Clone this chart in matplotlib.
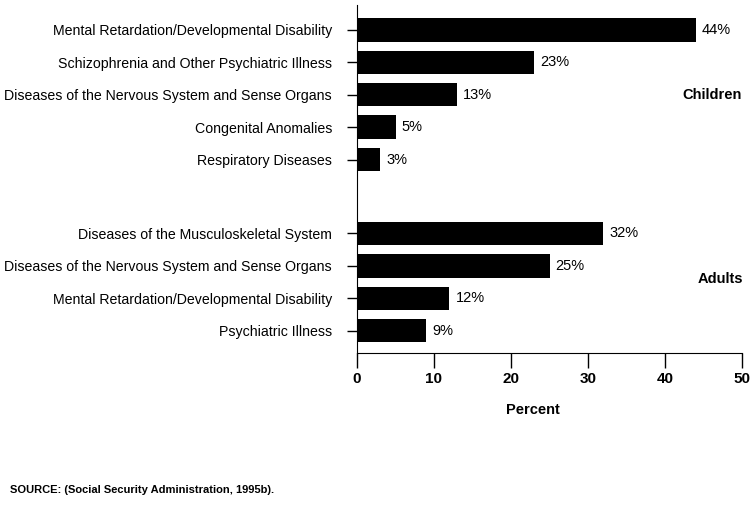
import numpy as np
import matplotlib
matplotlib.use("Agg")
import matplotlib.pyplot as plt

plt.rcParams['font.family'] = ['Liberation Sans', 'DejaVu Sans']

# Dados
criancas = ["Mental Retardation/Developmental Disability",
            "Schizophrenia and Other Psychiatric Illness",
            "Diseases of the Nervous System and Sense Organs",
            "Congenital Anomalies",
            "Respiratory Diseases"]
val_criancas = [44, 23, 13, 5, 3]

adultos = ["Diseases of the Musculoskeletal System",
           "Diseases of the Nervous System and Sense Organs",
           "Mental Retardation/Developmental Disability",
           "Psychiatric Illness"]
val_adultos = [32, 25, 12, 9]

xticks = [0, 10, 20, 30, 40, 50]

# posicoes das barras (grupo de adultos com um espaco)
pos_c = np.arange(len(criancas))
pos_a = np.arange(len(adultos)) + 6.28

fig = plt.figure(figsize=(7.53, 5.11), dpi=100)
ax = fig.add_axes([357/753, 1 - 353/511, 385/753, 348/511])

ax.barh(pos_c, val_criancas, height=0.72, color='black')
ax.barh(pos_a, val_adultos, height=0.72, color='black')

for p, v in zip(list(pos_c) + list(pos_a), val_criancas + val_adultos):
    ax.text(v + 0.8, p, f"{v}%", va='center', ha='left', fontsize=10.5, color='black')

ax.text(42.3, 2.0, "Children", fontsize=10.5, fontweight='bold', va='center', ha='left')
ax.text(44.3, 7.7, "Adults", fontsize=10.5, fontweight='bold', va='center', ha='left')

ax.set_yticks(list(pos_c) + list(pos_a))
ax.set_yticklabels(criancas + adultos, fontsize=10.2)
ax.set_ylim(9.97, -0.77)
ax.set_xlim(0, 50)
ax.set_xticks(xticks)
ax.set_xticklabels([str(x) for x in xticks], fontsize=11, fontweight='bold')

# tamanhos em pontos (1 pt = 1.39 px a 100 dpi)
ax.tick_params(axis='y', length=7.2, width=1, pad=10.8)
ax.tick_params(axis='x', length=10.8, width=1, pad=3)
ax.spines['top'].set_visible(False)
ax.spines['right'].set_visible(False)

ax.set_xlabel("Percent", fontsize=10.5, fontweight='bold')
ax.xaxis.set_label_coords(0.457, -0.145)

fig.text(10/753, 1 - 490/511, "SOURCE: (Social Security Administration, 1995b).",
         fontsize=8, fontweight='bold', va='center', ha='left')

plt.savefig("out.png", dpi=100)
